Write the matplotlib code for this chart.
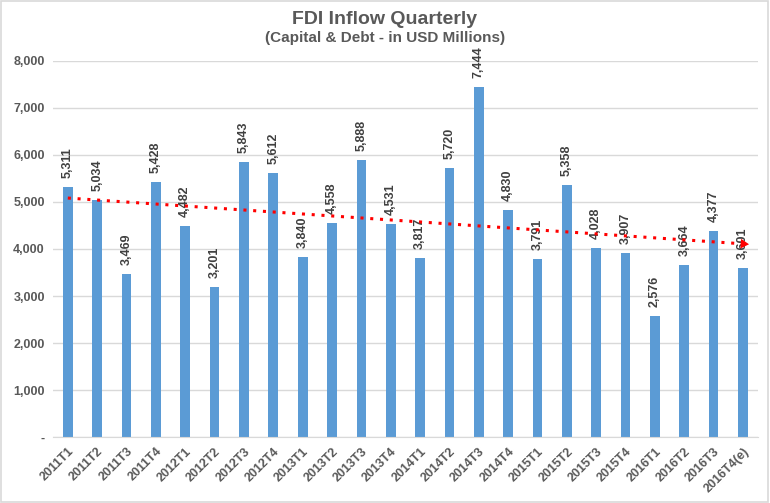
import matplotlib.pyplot as plt
import numpy as np

quarters = ["2011T1", "2011T2", "2011T3", "2011T4", "2012T1", "2012T2", "2012T3", "2012T4",
            "2013T1", "2013T2", "2013T3", "2013T4", "2014T1", "2014T2", "2014T3", "2014T4",
            "2015T1", "2015T2", "2015T3", "2015T4", "2016T1", "2016T2", "2016T3", "2016T4(e)"]
inflow = [5311, 5034, 3469, 5428, 4482, 3201, 5843, 5612,
          3840, 4558, 5888, 4531, 3817, 5720, 7444, 4830,
          3791, 5358, 4028, 3907, 2576, 3664, 4377, 3601]
yticks = [0, 1000, 2000, 3000, 4000, 5000, 6000, 7000, 8000]

font = ['Liberation Sans Narrow', 'Liberation Sans', 'DejaVu Sans']
grey = "#595959"

fig = plt.figure(figsize=(7.7, 5.03), dpi=100)
ax = fig.add_axes([0.069, 0.131, 0.915, 0.748])

x = np.arange(len(quarters))
ax.bar(x, inflow, width=0.33, color="#5B9BD5", zorder=2)

# value labels
for xi, v in zip(x, inflow):
    ax.text(xi, v + 190, f"{v:,}", rotation=90, ha="center", va="bottom",
            fontsize=9, fontweight="bold", color="#404040", family=font, clip_on=False)

# linear trend
k, b = np.polyfit(x, inflow, 1)
ax.plot(x, k * x + b, linestyle=(0, (1, 2.2)), color="red", linewidth=2.2, zorder=3)
ax.annotate("", xy=(x[-1] + 0.3, k * (x[-1] + 0.3) + b), xytext=(x[-1] - 0.1, k * (x[-1] - 0.1) + b),
            arrowprops=dict(arrowstyle="-|>,head_length=0.6,head_width=0.35", color="red", lw=0),
            zorder=4)

ax.set_xlim(-0.5, 23.5)
ax.set_ylim(0, 8000)
ax.set_yticks(yticks)
ax.set_yticklabels(["-" if t == 0 else f"{t:,}" for t in yticks])
ax.set_xticks(x)
ax.set_xticklabels(quarters, rotation=45, ha="right", rotation_mode="anchor")
for lab in ax.get_xticklabels() + ax.get_yticklabels():
    lab.set_fontweight("bold")
    lab.set_color(grey)
    lab.set_fontsize(9)
    lab.set_family(font)

ax.grid(axis="y", color="#D9D9D9", linewidth=1, zorder=0)
ax.tick_params(length=0, pad=6)
for s in ["top", "right", "left"]:
    ax.spines[s].set_visible(False)
ax.spines["bottom"].set_color("#D9D9D9")

fig.text(0.5, 0.962, "FDI Inflow Quarterly", ha="center", va="center",
         fontsize=14, fontweight="bold", color=grey, family=font)
fig.text(0.5, 0.925, "(Capital & Debt - in USD Millions)", ha="center", va="center",
         fontsize=11, fontweight="bold", color=grey, family=font)

fig.patches.append(plt.Rectangle((0.001, 0.001), 0.997, 0.997, transform=fig.transFigure,
                                 fill=False, edgecolor="#D9D9D9", linewidth=1.2))

fig.savefig("out.png", dpi=100)
